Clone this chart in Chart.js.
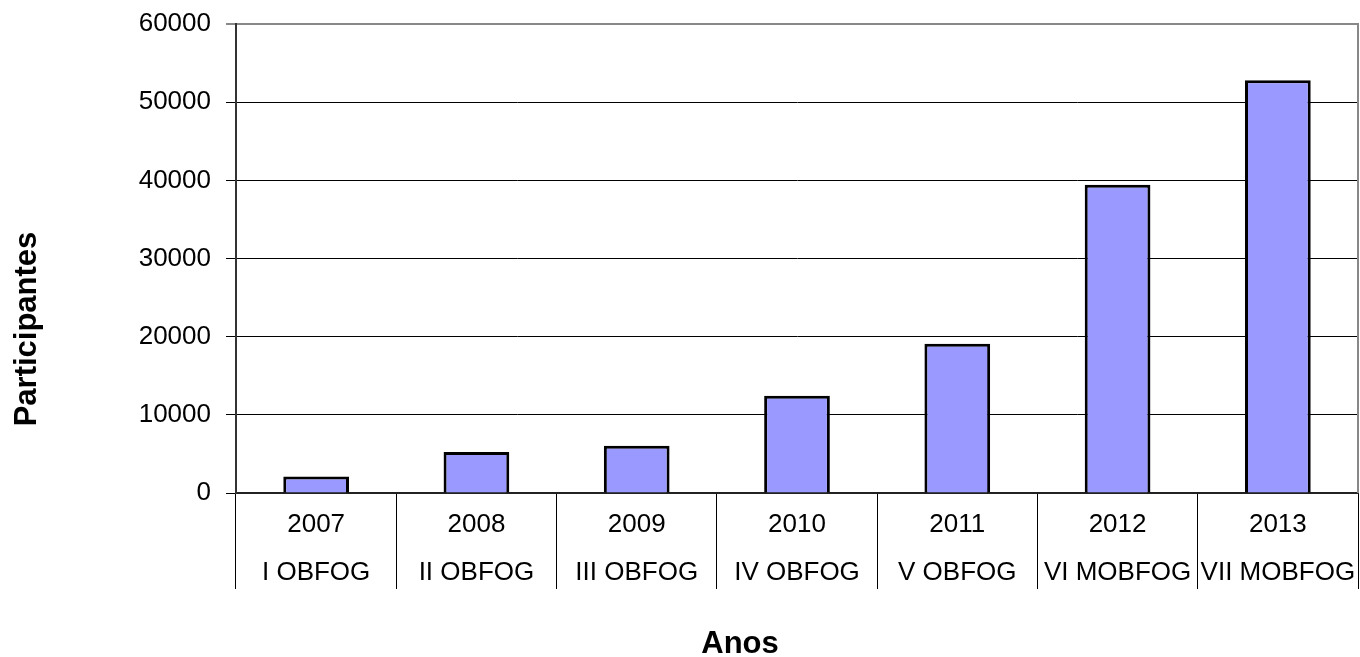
<!DOCTYPE html>
<html>
<head>
<meta charset="utf-8">
<title>Participantes por ano</title>
<script src="https://cdn.jsdelivr.net/npm/chart.js@4/dist/chart.umd.min.js"></script>
<style>
    html, body { margin: 0; padding: 0; background: #fff; }
    #wrap { width: 1360px; height: 657px; }
</style>
</head>
<body>
<div id="wrap"><canvas id="graficoParticipantes"></canvas></div>
<script>
// Dados
const anos = ['2007', '2008', '2009', '2010', '2011', '2012', '2013'];
const edicoes = ['I OBFOG', 'II OBFOG', 'III OBFOG', 'IV OBFOG', 'V OBFOG', 'VI MOBFOG', 'VII MOBFOG'];
const participantes = [2120, 5240, 6050, 12440, 19100, 39420, 52810];
const tituloY = 'Participantes';
const tituloX = 'Anos';

const FONTE = '"Liberation Sans", Arial, sans-serif';

const Grafico = {
    chart: null,

    init() {
        const ctx = document.getElementById('graficoParticipantes').getContext('2d');
        // rótulos em duas linhas: ano + edição
        const labels = anos.map((a, i) => [a, edicoes[i]]);

        this.chart = new Chart(ctx, {
            type: 'bar',
            data: {
                labels: labels,
                datasets: [{
                    label: tituloY,
                    data: participantes,
                    backgroundColor: '#9999FF',
                    borderColor: '#000',
                    borderWidth: 3,
                    barPercentage: 0.41,
                    categoryPercentage: 1
                }]
            },
            options: {
                responsive: true,
                maintainAspectRatio: false,
                animation: false,
                layout: { padding: { top: 24, right: 2, left: 0, bottom: 0 } },
                plugins: {
                    legend: { display: false },
                    tooltip: { enabled: false }
                },
                scales: {
                    x: {
                        afterFit(scale) { scale.height = 164; },
                        grid: {
                            offset: true,
                            drawOnChartArea: false,
                            drawTicks: true,
                            tickLength: 96,
                            color: '#000',
                            lineWidth: 1
                        },
                        border: { color: '#222', width: 2 },
                        ticks: {
                            autoSkip: false,
                            maxRotation: 0,
                            minRotation: 0,
                            padding: -89,
                            color: '#000',
                            font: { family: FONTE, size: 26, lineHeight: 1.88 }
                        }
                    },
                    y: {
                        min: 0,
                        max: 60000,
                        afterFit(scale) {
                            scale.width = 236;
                            scale.paddingTop = 0;
                            scale.paddingBottom = 0;
                        },
                        grid: {
                            color: c => c.tick && c.tick.value === 60000 ? '#888' : '#000',
                            lineWidth: c => c.tick && c.tick.value === 60000 ? 2 : 1,
                            tickLength: 10
                        },
                        border: { color: '#333', width: 2 },
                        ticks: {
                            stepSize: 10000,
                            padding: 15,
                            color: '#000',
                            font: { family: FONTE, size: 26 },
                            callback: v => String(v)
                        }
                    }
                }
            },
            plugins: [this.bordaDireita, this.titulos]
        });
    },

    // linha cinza do lado direito da área do gráfico
    bordaDireita: {
        id: 'bordaDireita',
        afterDraw(chart) {
            const { ctx, chartArea } = chart;
            ctx.save();
            ctx.strokeStyle = '#888';
            ctx.lineWidth = 2;
            ctx.beginPath();
            ctx.moveTo(chartArea.right, chartArea.top - 1);
            ctx.lineTo(chartArea.right, chartArea.bottom);
            ctx.stroke();
            ctx.restore();
        }
    },

    // títulos dos eixos (centrados como no original)
    titulos: {
        id: 'titulos',
        afterDraw(chart) {
            const ctx = chart.ctx;
            ctx.save();
            ctx.fillStyle = '#000';
            ctx.font = 'bold 31px ' + FONTE;
            ctx.textAlign = 'center';
            ctx.textBaseline = 'middle';
            ctx.fillText(tituloX, 740, 644);
            ctx.translate(27, 329);
            ctx.rotate(-Math.PI / 2);
            ctx.fillText(tituloY, 0, 0);
            ctx.restore();
        }
    }
};

window.onload = () => Grafico.init();
</script>
</body>
</html>
